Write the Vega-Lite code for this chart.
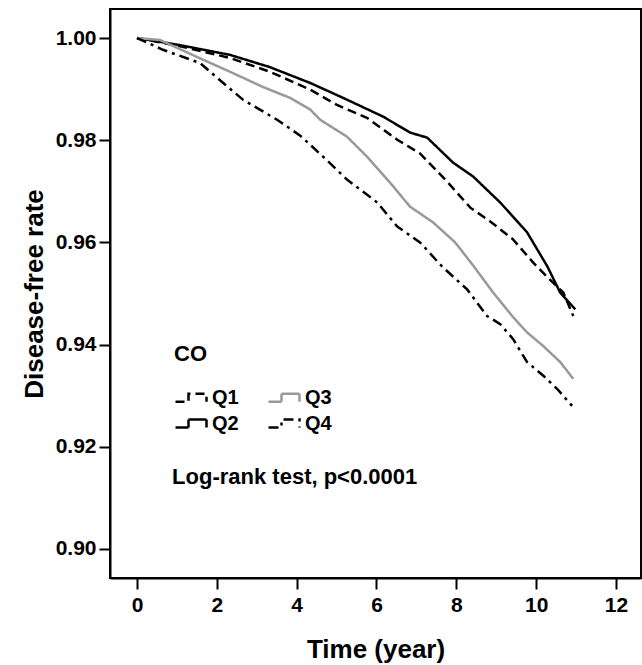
{
  "$schema": "https://vega.github.io/schema/vega-lite/v6.json",
  "width": 531,
  "height": 569,
  "autosize": {"type": "none"},
  "padding": {"left": 110, "top": 9, "right": 1, "bottom": 87},
  "background": "white",
  "config": {
    "font": "Liberation Sans",
    "view": {"stroke": "black", "strokeWidth": 2},
    "axis": {
      "grid": false,
      "domainColor": "black",
      "domainWidth": 2,
      "tickColor": "black",
      "tickWidth": 2,
      "tickSize": 11,
      "labelFont": "Liberation Sans",
      "labelFontWeight": "bold",
      "labelFontSize": 21,
      "labelColor": "black",
      "titleFont": "Liberation Sans",
      "titleFontWeight": "bold",
      "titleFontSize": 26,
      "titleColor": "black"
    }
  },
  "datasets": {
    "km": [
      {"g": "Q2", "t": 0, "s": 1.0},
      {"g": "Q2", "t": 1.08, "s": 0.9986},
      {"g": "Q2", "t": 2.33, "s": 0.9967},
      {"g": "Q2", "t": 3.33, "s": 0.9943},
      {"g": "Q2", "t": 4.34, "s": 0.9912},
      {"g": "Q2", "t": 5.16, "s": 0.9883},
      {"g": "Q2", "t": 6.17, "s": 0.9846},
      {"g": "Q2", "t": 6.84, "s": 0.9815},
      {"g": "Q2", "t": 7.27, "s": 0.9805},
      {"g": "Q2", "t": 7.92, "s": 0.9756},
      {"g": "Q2", "t": 8.42, "s": 0.9729},
      {"g": "Q2", "t": 9.1, "s": 0.9678},
      {"g": "Q2", "t": 9.77, "s": 0.962},
      {"g": "Q2", "t": 10.28, "s": 0.9553},
      {"g": "Q2", "t": 10.6, "s": 0.9502},
      {"g": "Q2", "t": 10.98, "s": 0.9469},
      {"g": "Q1", "t": 0, "s": 1.0},
      {"g": "Q1", "t": 1.08, "s": 0.9984},
      {"g": "Q1", "t": 2.33, "s": 0.9961},
      {"g": "Q1", "t": 3.33, "s": 0.9934},
      {"g": "Q1", "t": 4.34, "s": 0.9899},
      {"g": "Q1", "t": 5.01, "s": 0.9869},
      {"g": "Q1", "t": 5.76, "s": 0.9844},
      {"g": "Q1", "t": 6.52, "s": 0.9801},
      {"g": "Q1", "t": 7.09, "s": 0.9774},
      {"g": "Q1", "t": 7.77, "s": 0.9719},
      {"g": "Q1", "t": 8.35, "s": 0.9668},
      {"g": "Q1", "t": 8.85, "s": 0.9641},
      {"g": "Q1", "t": 9.42, "s": 0.9606},
      {"g": "Q1", "t": 9.92, "s": 0.9561},
      {"g": "Q1", "t": 10.28, "s": 0.9532},
      {"g": "Q1", "t": 10.68, "s": 0.9502},
      {"g": "Q1", "t": 10.93, "s": 0.9456},
      {"g": "Q3", "t": 0, "s": 1.0},
      {"g": "Q3", "t": 0.58, "s": 0.9996},
      {"g": "Q3", "t": 1.5, "s": 0.9963},
      {"g": "Q3", "t": 2.33, "s": 0.9934},
      {"g": "Q3", "t": 3.16, "s": 0.9904},
      {"g": "Q3", "t": 3.83, "s": 0.9883},
      {"g": "Q3", "t": 4.34, "s": 0.986},
      {"g": "Q3", "t": 4.59, "s": 0.984},
      {"g": "Q3", "t": 5.26, "s": 0.9807},
      {"g": "Q3", "t": 5.76, "s": 0.9768},
      {"g": "Q3", "t": 6.34, "s": 0.9717},
      {"g": "Q3", "t": 6.84, "s": 0.967},
      {"g": "Q3", "t": 7.42, "s": 0.9639},
      {"g": "Q3", "t": 7.97, "s": 0.96},
      {"g": "Q3", "t": 8.42, "s": 0.9555},
      {"g": "Q3", "t": 8.92, "s": 0.9502},
      {"g": "Q3", "t": 9.42, "s": 0.9454},
      {"g": "Q3", "t": 9.77, "s": 0.9424},
      {"g": "Q3", "t": 10.18, "s": 0.9397},
      {"g": "Q3", "t": 10.6, "s": 0.9366},
      {"g": "Q3", "t": 10.93, "s": 0.9333},
      {"g": "Q4", "t": 0, "s": 1.0},
      {"g": "Q4", "t": 0.65, "s": 0.9977},
      {"g": "Q4", "t": 1.58, "s": 0.9951},
      {"g": "Q4", "t": 2.16, "s": 0.9912},
      {"g": "Q4", "t": 2.66, "s": 0.9879},
      {"g": "Q4", "t": 3.51, "s": 0.984},
      {"g": "Q4", "t": 4.09, "s": 0.9809},
      {"g": "Q4", "t": 4.66, "s": 0.9768},
      {"g": "Q4", "t": 5.26, "s": 0.9723},
      {"g": "Q4", "t": 6.02, "s": 0.9678},
      {"g": "Q4", "t": 6.52, "s": 0.9631},
      {"g": "Q4", "t": 7.09, "s": 0.96},
      {"g": "Q4", "t": 7.64, "s": 0.9553},
      {"g": "Q4", "t": 8.27, "s": 0.9508},
      {"g": "Q4", "t": 8.77, "s": 0.9456},
      {"g": "Q4", "t": 9.1, "s": 0.944},
      {"g": "Q4", "t": 9.42, "s": 0.9411},
      {"g": "Q4", "t": 9.77, "s": 0.9366},
      {"g": "Q4", "t": 10.18, "s": 0.9339},
      {"g": "Q4", "t": 10.53, "s": 0.9313},
      {"g": "Q4", "t": 10.9, "s": 0.928}
    ]
  },
  "layer": [
    {
      "data": {"name": "km"},
      "mark": {"type": "line", "strokeWidth": 2.5, "interpolate": "linear"},
      "encoding": {
        "x": {
          "field": "t", "type": "quantitative",
          "scale": {"domain": [-0.676, 12.626], "nice": false, "zero": false},
          "axis": {"values": [0, 2, 4, 6, 8, 10, 12], "title": "Time (year)", "labelPadding": 5, "titlePadding": 21}
        },
        "y": {
          "field": "s", "type": "quantitative",
          "scale": {"domain": [0.89432, 1.00568], "nice": false, "zero": false},
          "axis": {"values": [0.9, 0.92, 0.94, 0.96, 0.98, 1.0], "format": ".2f", "title": "Disease-free rate", "labelPadding": 3, "titlePadding": 8}
        },
        "color": {
          "field": "g", "type": "nominal", "title": "CO",
          "scale": {"domain": ["Q1", "Q2", "Q3", "Q4"], "range": ["#000000", "#000000", "#999999", "#000000"]},
          "legend": {
            "orient": "none", "legendX": 64, "legendY": 335, "columns": 2, "direction": "vertical",
            "padding": 0, "columnPadding": 24, "rowPadding": 4,
            "titleFont": "Liberation Sans", "titleFontWeight": "bold", "titleFontSize": 22, "titleColor": "black", "titlePadding": 20,
            "labelFont": "Liberation Sans", "labelFontWeight": "bold", "labelFontSize": 20, "labelColor": "black", "labelOffset": 15,
            "symbolType": "M-1,0.4 H0.3 V-0.4 H2.1 V0.4", "symbolSize": 400, "symbolStrokeWidth": 2.5, "symbolFillColor": "transparent"
          }
        },
        "strokeDash": {
          "field": "g", "type": "nominal", "title": "CO",
          "scale": {"domain": ["Q1", "Q2", "Q3", "Q4"], "range": [[9, 5], [1, 0], [1, 0], [10, 5, 3, 5]]},
          "legend": {
            "orient": "none", "legendX": 64, "legendY": 335, "columns": 2, "direction": "vertical",
            "padding": 0, "columnPadding": 24, "rowPadding": 4,
            "titleFont": "Liberation Sans", "titleFontWeight": "bold", "titleFontSize": 22, "titleColor": "black", "titlePadding": 20,
            "labelFont": "Liberation Sans", "labelFontWeight": "bold", "labelFontSize": 20, "labelColor": "black", "labelOffset": 15,
            "symbolType": "M-1,0.4 H0.3 V-0.4 H2.1 V0.4", "symbolSize": 400, "symbolStrokeWidth": 2.5, "symbolFillColor": "transparent"
          }
        }
      }
    },
    {
      "data": {"values": [{"label": "Log-rank test, p<0.0001"}]},
      "mark": {"type": "text", "align": "left", "baseline": "middle", "font": "Liberation Sans", "fontWeight": "bold", "fontSize": 22, "color": "black"},
      "encoding": {
        "x": {"datum": 0.88},
        "y": {"datum": 0.91415},
        "text": {"field": "label"}
      }
    }
  ]
}
